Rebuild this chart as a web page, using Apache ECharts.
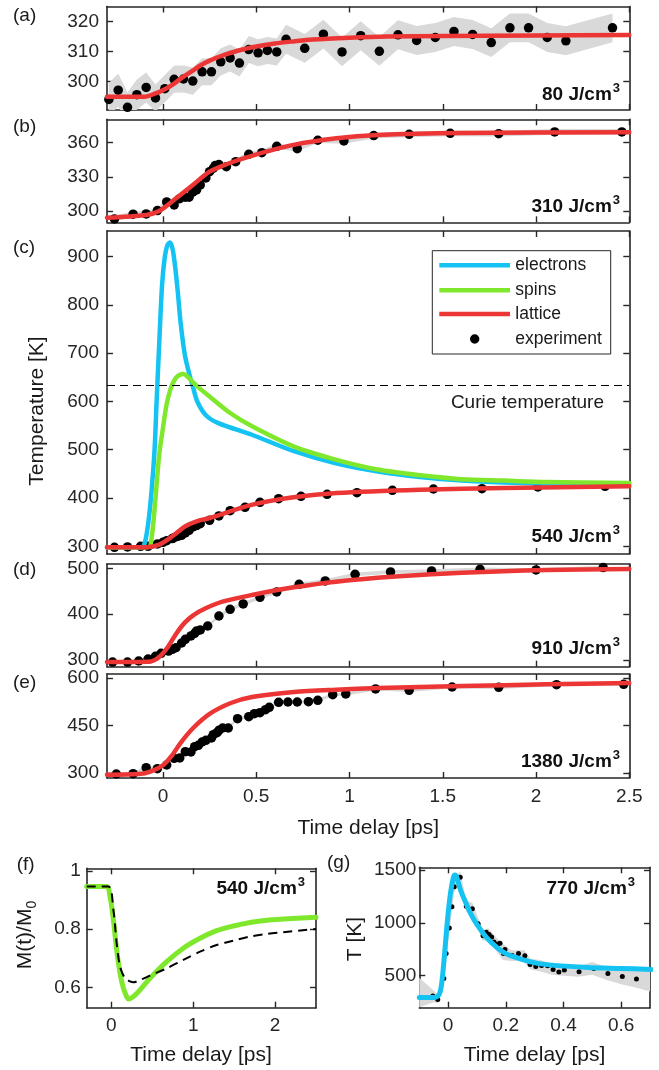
<!DOCTYPE html>
<html>
<head>
<meta charset="utf-8">
<script src="https://cdn.jsdelivr.net/npm/echarts@6/dist/echarts.min.js"></script>
<style>
  html, body { margin: 0; padding: 0; background: #fff; }
  #chart { width: 659px; height: 1070px; }
</style>
</head>
<body>
<div id="chart"></div>
<script>
// ---- tick values ----
const mainXTicks = [0, 0.5, 1, 1.5, 2, 2.5];
const fXTicks = [0, 1, 2];
const gXTicks = [0, 0.2, 0.4, 0.6];
const aYTicks = [300, 310, 320];
const bYTicks = [300, 330, 360];
const cYTicks = [300, 400, 500, 600, 700, 800, 900];
const dYTicks = [300, 400, 500];
const eYTicks = [300, 450, 600];
const fYTicks = [0.6, 0.8, 1];
const gYTicks = [500, 1000, 1500];

// ---- (a) 80 J/cm3 ----
const aT = [-0.29, -0.24, -0.19, -0.14, -0.09, -0.04, 0.01, 0.06, 0.11, 0.16, 0.21, 0.26, 0.31, 0.36, 0.41, 0.46, 0.51, 0.56, 0.61, 0.66, 0.76, 0.86, 0.96, 1.06, 1.16, 1.26, 1.36, 1.46, 1.56, 1.66, 1.76, 1.86, 1.96, 2.06, 2.16, 2.41];
const aY = [294.1, 297.2, 291.5, 295.7, 298.1, 294.6, 297.7, 300.8, 300.9, 300.2, 303.3, 303.3, 306.6, 307.9, 306.2, 310.7, 309.6, 310.4, 309.9, 314.1, 311.1, 315.8, 309.9, 315.3, 310.1, 315.6, 313.7, 314.7, 316.7, 315.7, 313.0, 317.9, 317.9, 314.7, 313.6, 317.9];
const aErr = [5.5, 5.5, 5, 5, 5, 4.5, 4.5, 4.5, 4.5, 4.5, 4.5, 4.5, 4.5, 4.5, 4.5, 4.5, 4.5, 4.5, 4.5, 4.8, 4.8, 4.8, 4.8, 4.8, 4.8, 4.8, 4.8, 4.8, 4.8, 4.8, 4.8, 4.8, 4.8, 4.8, 4.8, 4.8];
const aFitT = [-0.3, -0.1, -0.04, 0.01, 0.06, 0.11, 0.16, 0.2, 0.25, 0.3, 0.4, 0.5, 0.6, 0.7, 0.8, 1.0, 1.2, 1.5, 2.0, 2.5];
const aFitY = [295, 295, 296.1, 297.5, 299.4, 301.7, 303.7, 305.4, 307, 308.3, 310.3, 311.7, 312.7, 313.4, 314, 314.6, 315, 315.2, 315.4, 315.5];

// ---- (b) 310 J/cm3 ----
const bT = [-0.26, -0.16, -0.09, -0.03, 0.02, 0.06, 0.09, 0.12, 0.14, 0.16, 0.18, 0.2, 0.23, 0.25, 0.27, 0.28, 0.3, 0.34, 0.39, 0.46, 0.53, 0.61, 0.72, 0.83, 0.97, 1.13, 1.32, 1.54, 1.8, 2.1, 2.46];
const bY = [293, 297.1, 297.4, 300.3, 307.9, 305.3, 310.8, 312, 312, 316.4, 318.4, 322.8, 329, 334.5, 337.5, 339.8, 340.7, 338.9, 343.3, 349.8, 351.2, 356.8, 354.7, 362.1, 361.5, 366.2, 367.3, 368.2, 367.9, 369.4, 369.4];
const bErr = 2.5;
const bFitT = [-0.3, -0.09, -0.02, 0.07, 0.16, 0.25, 0.34, 0.48, 0.7, 0.93, 1.15, 1.6, 2.5];
const bFitY = [294.1, 296.5, 300, 311.1, 322.8, 334.5, 341, 348.6, 358, 363.8, 366.7, 368.5, 369.1];

// ---- (c) 540 J/cm3 ----
const cT = [-0.26, -0.19, -0.12, -0.08, -0.03, 0, 0.02, 0.05, 0.06, 0.08, 0.1, 0.12, 0.14, 0.16, 0.18, 0.2, 0.25, 0.3, 0.36, 0.44, 0.52, 0.62, 0.74, 0.88, 1.04, 1.23, 1.45, 1.71, 2.01, 2.37];
const cY = [297.9, 298.6, 300, 300, 304.8, 308.3, 311.7, 315.9, 317.9, 320.7, 322.8, 327.6, 333.1, 340, 342.8, 346.9, 353.8, 362.8, 373.8, 380.7, 391, 398.6, 403.4, 407.6, 411, 415.9, 418.6, 419.3, 422.8, 424.1];
const cErr = 2;
const cLatT = [-0.3, -0.09, -0.02, 0.05, 0.12, 0.18, 0.25, 0.48, 0.7, 0.93, 1.38, 1.83, 2.5];
const cLatY = [297.9, 297.9, 303.4, 320.7, 341.4, 351.7, 358.6, 386.2, 401.4, 410.3, 417.2, 420.7, 424.1];
const cElT = [-0.3, -0.13, -0.105, -0.09, -0.075, -0.06, -0.045, -0.034, -0.02, -0.005, 0.01, 0.025, 0.038, 0.052, 0.065, 0.08, 0.094, 0.117, 0.139, 0.162, 0.184, 0.229, 0.297, 0.477, 0.702, 0.927, 1.153, 1.378, 1.603, 1.828, 2.054, 2.5];
const cElY = [298, 298, 300, 320, 360, 420, 500, 600, 720, 840, 900, 925, 929, 915, 880, 825, 765, 697, 660, 628, 600, 572, 555, 531, 497, 472, 455, 443.5, 436, 432, 430, 429];
const cSpT = [-0.3, -0.08, -0.06, -0.04, -0.02, 0, 0.02, 0.04, 0.06, 0.08, 0.11, 0.13, 0.16, 0.2, 0.25, 0.36, 0.48, 0.7, 0.93, 1.15, 1.38, 1.6, 1.83, 2.05, 2.5];
const cSpY = [298, 298, 320, 400, 490, 545, 595, 625, 643, 653, 657, 652, 640, 626, 610, 576, 548, 507, 479, 459, 447, 439, 436, 433, 431];
const curieT = 633;

// ---- (d) 910 J/cm3 ----
const dT = [-0.27, -0.19, -0.13, -0.08, -0.04, -0.01, 0.03, 0.05, 0.07, 0.1, 0.12, 0.15, 0.17, 0.18, 0.2, 0.24, 0.3, 0.36, 0.43, 0.52, 0.61, 0.73, 0.87, 1.03, 1.22, 1.44, 1.7, 2.0, 2.36];
const dY = [295.6, 295.6, 297.8, 302.2, 308, 314.5, 319.6, 323.3, 326.9, 337.1, 345.1, 352.4, 358.2, 363.3, 365.5, 374.2, 396, 410.5, 422.2, 436.7, 448.4, 465.1, 472.4, 486.9, 492, 494.2, 497.8, 496.4, 501.5];
const dErr = 4;
const dFitT = [-0.3, -0.064, -0.018, 0.027, 0.072, 0.117, 0.162, 0.229, 0.319, 0.477, 0.702, 0.927, 1.265, 1.603, 2.054, 2.5];
const dFitY = [295.6, 297, 307.3, 329, 358, 381.5, 397.5, 412.7, 427.3, 441.8, 458.5, 470.9, 482.5, 490.5, 496.4, 498.5];

// ---- (e) 1380 J/cm3 ----
const eT = [-0.25, -0.16, -0.09, -0.03, 0.02, 0.06, 0.09, 0.12, 0.15, 0.17, 0.19, 0.21, 0.23, 0.26, 0.27, 0.29, 0.3, 0.32, 0.35, 0.4, 0.46, 0.49, 0.52, 0.55, 0.57, 0.62, 0.67, 0.72, 0.78, 0.83, 0.91, 0.98, 1.14, 1.32, 1.55, 1.8, 2.11, 2.47];
const eY = [296.8, 297.9, 316.8, 313.7, 325.3, 346.3, 347.4, 367.4, 366.3, 383.2, 387.4, 397.9, 403.2, 410.5, 421.1, 427.4, 434.7, 442.1, 442.1, 471.6, 477.9, 487.4, 490.5, 500, 507.4, 523.2, 524.2, 524.2, 525.3, 529.5, 547.4, 549.5, 565.3, 561.1, 571.6, 570.5, 578.9, 580];
const eErr = 5;
const eFitT = [-0.3, -0.131, -0.064, 0.004, 0.049, 0.094, 0.162, 0.252, 0.364, 0.477, 0.702, 0.927, 1.153, 1.603, 2.054, 2.5];
const eFitY = [294.7, 296.8, 305.3, 326.3, 355.8, 394.7, 442.1, 487.4, 521, 540, 555.8, 563.2, 568.4, 574.7, 580, 584.2];

// ---- (f) magnetization, 540 J/cm3 ----
const fSpT = [-0.3, -0.056, -0.015, 0.026, 0.066, 0.107, 0.148, 0.188, 0.209, 0.27, 0.351, 0.473, 0.677, 0.88, 1.084, 1.287, 1.491, 1.695, 1.898, 2.102, 2.5];
const fSpY = [0.947, 0.947, 0.912, 0.832, 0.729, 0.649, 0.598, 0.569, 0.561, 0.569, 0.592, 0.632, 0.689, 0.735, 0.769, 0.795, 0.811, 0.823, 0.831, 0.835, 0.841];
const fDashT = [-0.3, -0.036, 0.026, 0.066, 0.107, 0.168, 0.229, 0.27, 0.351, 0.473, 0.677, 0.88, 1.084, 1.287, 1.491, 1.695, 1.898, 2.102, 2.5];
const fDashY = [0.947, 0.947, 0.866, 0.752, 0.672, 0.632, 0.621, 0.618, 0.626, 0.641, 0.666, 0.695, 0.723, 0.746, 0.761, 0.775, 0.784, 0.79, 0.801];

// ---- (g) electrons, 770 J/cm3 ----
const gT = [-0.053, -0.036, -0.015, -0.007, 0.004, 0.013, 0.021, 0.042, 0.063, 0.084, 0.104, 0.121, 0.132, 0.142, 0.151, 0.159, 0.173, 0.18, 0.192, 0.197, 0.222, 0.244, 0.266, 0.284, 0.304, 0.324, 0.345, 0.364, 0.384, 0.403, 0.454, 0.505, 0.554, 0.604, 0.653, 0.702];
const gY = [308, 276, 475, 711, 951, 1153, 1342, 1431, 1156, 1134, 992, 879, 910, 891, 866, 819, 800, 806, 711, 749, 692, 711, 689, 607, 588, 598, 595, 560, 535, 554, 538, 569, 522, 494, 469, 450];
const gBandT = [-0.1, -0.05, -0.035, -0.015, 0.0035, 0.013, 0.021, 0.042, 0.063, 0.084, 0.104, 0.12, 0.14, 0.16, 0.19, 0.22, 0.265, 0.285, 0.32, 0.36, 0.4, 0.45, 0.5, 0.55, 0.6, 0.65, 0.7];
const gBandLo = [200, 250, 240, 420, 900, 1100, 1290, 1380, 1100, 1080, 940, 830, 840, 760, 650, 640, 640, 560, 540, 510, 500, 490, 510, 460, 420, 390, 350];
const gBandHi = [480, 360, 320, 530, 1000, 1210, 1400, 1490, 1210, 1190, 1050, 930, 950, 880, 800, 740, 740, 660, 650, 610, 610, 590, 630, 580, 560, 550, 550];
const gFitT = [-0.1, -0.05, -0.0325, -0.024, -0.0174, -0.0093, -0.0012, 0.0081, 0.0174, 0.0232, 0.029, 0.0429, 0.0545, 0.0778, 0.101, 0.136, 0.194, 0.252, 0.31, 0.368, 0.484, 0.6, 0.704];
const gFitY = [295, 295, 317, 396, 554, 806, 1058, 1279, 1421, 1453, 1437, 1311, 1232, 1090, 980, 853, 718, 658, 617, 598, 579, 569, 560];

// ---- styling ----
const FONT = '"Liberation Sans", Arial, Helvetica, sans-serif';
const INK = '#262626';
const BAND = '#d9d9d9';
const RED = '#ec3535';
const BLUE = '#14c3f2';
const GREEN = '#7fe82c';

const panels = [
  { box: [107, 6.5, 522.3, 103.5], x: [-0.3, 2.5], y: [290.6, 325], xTicks: mainXTicks, yTicks: aYTicks, xLabels: false, yMargin: 8 },
  { box: [107, 119.3, 522.3, 103], x: [-0.3, 2.5], y: [290, 380.5], xTicks: mainXTicks, yTicks: bYTicks, xLabels: false, yMargin: 8 },
  { box: [107, 231, 522.3, 323], x: [-0.3, 2.5], y: [284, 953], xTicks: mainXTicks, yTicks: cYTicks, xLabels: false, yMargin: 8 },
  { box: [107, 564, 522.3, 102.7], x: [-0.3, 2.5], y: [285.4, 509.4], xTicks: mainXTicks, yTicks: dYTicks, xLabels: false, yMargin: 8 },
  { box: [107, 674, 522.3, 104], x: [-0.3, 2.5], y: [284.2, 612.6], xTicks: mainXTicks, yTicks: eYTicks, xLabels: true, yMargin: 8 },
  { box: [86.7, 868.3, 229.3, 139.4], x: [-0.3, 2.5], y: [0.531, 1.009], xTicks: fXTicks, yTicks: fYTicks, xLabels: true, yMargin: 6 },
  { box: [419.3, 867.3, 230.7, 140.4], x: [-0.1, 0.7], y: [198, 1525], xTicks: gXTicks, yTicks: gYTicks, xLabels: true, yMargin: 3 },
];

function zip(xs, ys) {
  return xs.map((x, k) => [x, ys[k]]);
}

function makeAxis(i, position, range, ticks, showLabels, margin) {
  return {
    type: 'value',
    gridIndex: i,
    position: position,
    min: range[0],
    max: range[1],
    splitLine: { show: false },
    axisLine: { show: true, onZero: false, lineStyle: { color: INK, width: 1.6 } },
    axisTick: { show: true, inside: true, length: 6, customValues: ticks, lineStyle: { color: INK, width: 1.4 } },
    axisLabel: {
      show: showLabels,
      customValues: ticks,
      margin: margin,
      color: INK,
      fontSize: 19,
      fontFamily: FONT,
      formatter: (v) => String(v),
    },
  };
}

const grids = [];
const xAxes = [];
const yAxes = [];
panels.forEach((p, i) => {
  grids.push({ left: p.box[0], top: p.box[1], width: p.box[2], height: p.box[3], containLabel: false, outerBoundsMode: 'none' });
  xAxes.push(makeAxis(i, 'bottom', p.x, p.xTicks, p.xLabels, 9));
  xAxes.push(makeAxis(i, 'top', p.x, p.xTicks, false, 0));
  yAxes.push(makeAxis(i, 'left', p.y, p.yTicks, true, p.yMargin));
  yAxes.push(makeAxis(i, 'right', p.y, p.yTicks, false, 0));
});

function band(i, xs, lo, hi) {
  return {
    type: 'custom',
    xAxisIndex: 2 * i,
    yAxisIndex: 2 * i,
    clip: true,
    silent: true,
    data: [[xs[0], lo[0]]],
    renderItem: (params, api) => {
      const pts = [];
      for (let k = 0; k < xs.length; k++) pts.push(api.coord([xs[k], hi[k]]));
      for (let k = xs.length - 1; k >= 0; k--) pts.push(api.coord([xs[k], lo[k]]));
      return { type: 'polygon', shape: { points: pts }, style: { fill: BAND } };
    },
  };
}

function bandAround(i, xs, ys, err) {
  const e = (k) => (Array.isArray(err) ? err[k] : err);
  return band(i, xs, ys.map((y, k) => y - e(k)), ys.map((y, k) => y + e(k)));
}

function curve(i, xs, ys, color, width, extra) {
  return Object.assign({
    type: 'line',
    xAxisIndex: 2 * i,
    yAxisIndex: 2 * i,
    data: zip(xs, ys),
    symbol: 'none',
    smooth: 0.3,
    clip: true,
    lineStyle: { color: color, width: width, cap: 'round', join: 'round' },
    silent: true,
  }, extra || {});
}

function dots(i, xs, ys, size) {
  return {
    type: 'scatter',
    xAxisIndex: 2 * i,
    yAxisIndex: 2 * i,
    data: zip(xs, ys),
    symbolSize: size,
    itemStyle: { color: '#000', opacity: 1 },
    silent: true,
  };
}

const series = [
  bandAround(0, aT, aY, aErr),
  curve(0, aFitT, aFitY, RED, 4.5),
  dots(0, aT, aY, 9.5),

  bandAround(1, bT, bY, bErr),
  curve(1, bFitT, bFitY, RED, 4.5),
  dots(1, bT, bY, 9.5),

  bandAround(2, cT, cY, cErr),
  curve(2, cElT, cElY, BLUE, 4.5, {
    markLine: {
      silent: true,
      symbol: 'none',
      label: { show: false },
      lineStyle: { color: '#000', width: 1.2, type: [8, 5] },
      data: [{ yAxis: curieT }],
    },
  }),
  curve(2, cSpT, cSpY, GREEN, 4.5),
  curve(2, cLatT, cLatY, RED, 4.5),
  dots(2, cT, cY, 9.5),

  bandAround(3, dT, dY, dErr),
  curve(3, dFitT, dFitY, RED, 4.5),
  dots(3, dT, dY, 9.5),

  bandAround(4, eT, eY, eErr),
  curve(4, eFitT, eFitY, RED, 4.5),
  dots(4, eT, eY, 9.5),

  curve(5, fSpT, fSpY, GREEN, 5),
  curve(5, fDashT, fDashY, '#000', 2, { lineStyle: { color: '#000', width: 2, type: [9, 6] } }),

  band(6, gBandT, gBandLo, gBandHi),
  curve(6, gFitT, gFitY, BLUE, 5),
  dots(6, gT, gY, 5),
];

// ---- free text and legend ----
function label(x, y, text, size, extra) {
  return Object.assign({
    type: 'text', x: x, y: y, silent: true,
    style: { text: text, fill: '#1a1a1a', fontSize: size, fontFamily: FONT, align: 'left', verticalAlign: 'middle' },
  }, extra || {});
}

function centred(x, y, text, size, rotation, align) {
  return {
    type: 'text', x: x, y: y, silent: true, rotation: rotation || 0,
    style: { text: text, fill: '#1a1a1a', fontSize: size, fontFamily: FONT, align: align || 'center', verticalAlign: 'middle' },
  };
}

function energy(x, y, value) {
  return {
    type: 'text', x: x, y: y, silent: true,
    style: {
      text: '{b|' + value + ' J/cm}{s|3}',
      align: 'right',
      verticalAlign: 'middle',
      rich: {
        b: { fontSize: 19, fontWeight: 'bold', fontFamily: FONT, fill: '#111', lineHeight: 26 },
        s: { fontSize: 13, fontWeight: 'bold', fontFamily: FONT, fill: '#111', lineHeight: 13, verticalAlign: 'top', padding: [0, 0, 0, 1] },
      },
    },
  };
}

const legendRows = [
  { name: 'electrons', color: BLUE, y: 265.3 },
  { name: 'spins', color: GREEN, y: 290.3 },
  { name: 'lattice', color: RED, y: 314 },
];

const legend = [
  { type: 'rect', silent: true, shape: { x: 432.3, y: 250.7, width: 178.4, height: 103.3 }, style: { fill: '#fff', stroke: INK, lineWidth: 1 }, z: 10 },
];
legendRows.forEach((r) => {
  legend.push({ type: 'line', silent: true, z: 11, shape: { x1: 439.3, y1: r.y, x2: 510, y2: r.y }, style: { stroke: r.color, lineWidth: 4.5 } });
  legend.push(label(515.3, r.y, r.name, 17.5, { z: 11 }));
});
legend.push({ type: 'circle', silent: true, z: 11, shape: { cx: 474.7, cy: 339, r: 4.7 }, style: { fill: '#000' } });
legend.push(label(515.3, 339, 'experiment', 17.5, { z: 11 }));

const graphics = [
  label(13, 16, '(a)', 19),
  label(13, 126.7, '(b)', 19),
  label(13, 248, '(c)', 19),
  label(13, 570, '(d)', 19),
  label(13, 683, '(e)', 19),
  label(16.7, 865, '(f)', 19),
  label(327, 863, '(g)', 19),

  centred(37, 411, 'Temperature [K]', 21, Math.PI / 2),
  centred(368.2, 828, 'Time delay [ps]', 21),
  centred(201, 1055, 'Time delay [ps]', 21),
  centred(534.5, 1055, 'Time delay [ps]', 21),
  {
    type: 'text', x: 25, y: 935, rotation: Math.PI / 2, silent: true,
    style: {
      text: '{m|M(t)/M}{s|0}',
      align: 'center',
      verticalAlign: 'middle',
      rich: {
        m: { fontSize: 21, fontFamily: FONT, fill: '#1a1a1a', lineHeight: 28 },
        s: { fontSize: 14, fontFamily: FONT, fill: '#1a1a1a', lineHeight: 14, verticalAlign: 'bottom' },
      },
    },
  },
  centred(355, 939, 'T [K]', 21, Math.PI / 2),

  centred(604, 402.3, 'Curie temperature', 19, 0, 'right'),

  energy(620, 95, '80'),
  energy(620, 206.5, '310'),
  energy(620, 536.5, '540'),
  energy(620, 648.5, '910'),
  energy(620, 761.5, '1380'),
  energy(305, 888.5, '540'),
  energy(635, 888.5, '770'),
].concat(legend);

const chart = echarts.init(document.getElementById('chart'), null, { renderer: 'canvas' });
chart.setOption({
  animation: false,
  backgroundColor: '#fff',
  textStyle: { fontFamily: FONT },
  grid: grids,
  xAxis: xAxes,
  yAxis: yAxes,
  series: series,
  graphic: graphics,
});
</script>
</body>
</html>
